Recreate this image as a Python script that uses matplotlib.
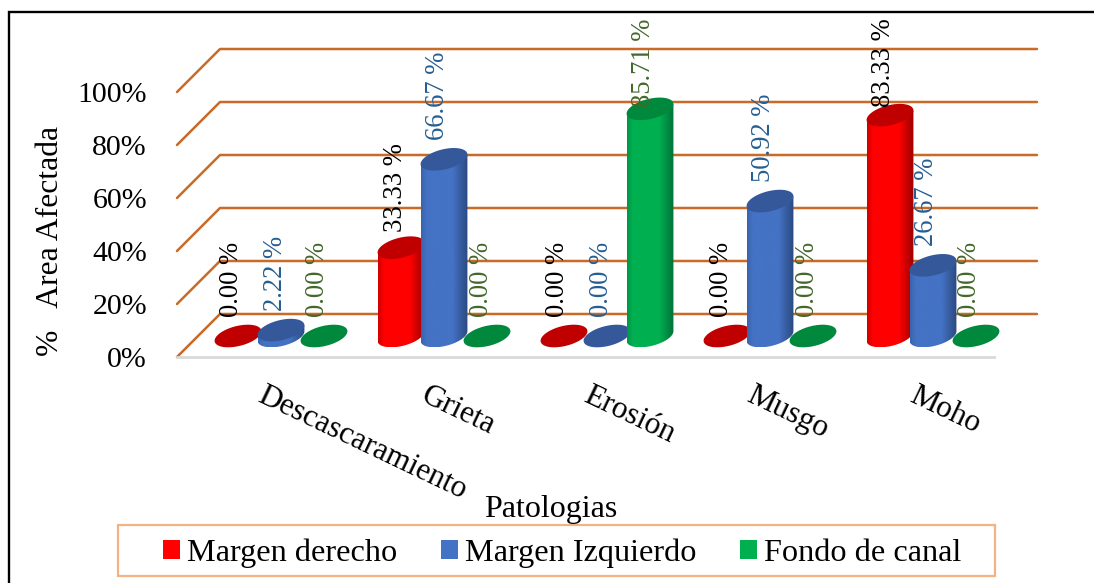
import numpy as np
import matplotlib
matplotlib.use('Agg')
import matplotlib.pyplot as plt
from matplotlib.colors import LinearSegmentedColormap
from matplotlib.patches import Patch, PathPatch, Rectangle
from matplotlib.path import Path

categories = ['Descascaramiento', 'Grieta', 'Erosión', 'Musgo', 'Moho']
series_names = ['Margen derecho', 'Margen Izquierdo', 'Fondo de canal']
derecho = [0.00, 33.33, 0.00, 0.00, 83.33]
izquierdo = [2.22, 66.67, 0.00, 50.92, 26.67]
fondo = [0.00, 0.00, 85.71, 0.00, 0.00]
y_ticks = [0, 20, 40, 60, 80, 100]

plt.rcParams['font.family'] = ['Liberation Serif', 'DejaVu Serif']

W, H = 1094, 583
# one category step and one percent, in pixels
PX_CAT = 163.0
PX_PCT = 2.65
BASE_X = 237.0
BASE_Y = 336.0

fig = plt.figure(figsize=(W / 100, H / 100), dpi=100)
ax = fig.add_axes([0, 0, 1, 1])
ax.set_xlim(-BASE_X / PX_CAT, (W - BASE_X) / PX_CAT)
ax.set_ylim((BASE_Y - H) / PX_PCT, BASE_Y / PX_PCT)
ax.axis('off')


def dx(px):
    return px / PX_CAT


def dy(px):
    return px / PX_PCT


# frame round the chart area (only left and top fall inside the image)
ax.plot([dx(8.5 - BASE_X)] * 2 + [dx(W - BASE_X)],
        [dy(BASE_Y - H), dy(BASE_Y - 11.5), dy(BASE_Y - 11.5)],
        color='black', lw=1.7, solid_joinstyle='miter', zorder=1)

# walls and floor of the 3D box
left = dx(177 - BASE_X)
depth_x = dx(43)
right = dx(994 - BASE_X)
front = -dy(21)
back = dy(22)
GRID = '#c55a11'
for t in y_ticks:
    ax.plot([left, left + depth_x, right + depth_x],
            [t + front, t + back, t + back],
            color=GRID, lw=1.8, alpha=0.9, solid_capstyle='round', zorder=2)
    ax.text(dx(147 - BASE_X), t + front, f'{t}%', ha='right', va='center_baseline',
            fontsize=21.5, color='black')
ax.plot([left, right], [front, front], color='#d9d9d9', lw=2.0, zorder=2)

# colours per series: left edge, centre, right edge, cap, label
styles = [
    ('#d00000', '#ff0000', '#9c0000', '#c00000', 'black'),
    ('#3a64ad', '#4472c4', '#2b4a80', '#34589a', '#255e91'),
    ('#00964a', '#00b050', '#00733a', '#00893d', '#43682b'),
]
series_values = [derecho, izquierdo, fondo]

RX, RY = 24.0, 10.0
TILT = np.radians(14)


def ellipse(cx, cy):
    t = np.linspace(0, 2 * np.pi, 121)
    ex = RX * np.cos(t) * np.cos(TILT) - RY * np.sin(t) * np.sin(TILT)
    ey = RX * np.cos(t) * np.sin(TILT) + RY * np.sin(t) * np.cos(TILT)
    return cx + dx(ex), cy + dy(ey)


def cylinder(cx, value, style, z):
    c_left, c_mid, c_right, c_cap, _ = style
    x_b, y_b = ellipse(cx, 0)
    x_t, y_t = ellipse(cx, value)
    if value > 0:
        # side wall: lower arc of the base, then straight up to the top ellipse
        i_r, i_l = int(np.argmax(x_b)), int(np.argmin(x_b))
        idx = np.arange(i_l, i_r + 1) if i_l < i_r else np.r_[i_l:len(x_b) - 1, 0:i_r + 1]
        xs = np.r_[x_b[idx], x_t[i_r], x_t[i_l], x_b[i_l]]
        ys = np.r_[y_b[idx], y_t[i_r], y_t[i_l], y_b[i_l]]
        clip = PathPatch(Path(np.column_stack([xs, ys])), transform=ax.transData,
                         fc='none', ec='none')
        ax.add_patch(clip)
        cmap = LinearSegmentedColormap.from_list(
            'side', [(0, c_left), (0.12, c_mid), (0.68, c_mid), (1, c_right)])
        img = ax.imshow(np.linspace(0, 1, 64).reshape(1, -1), cmap=cmap, aspect='auto',
                        extent=[x_b[i_l], x_b[i_r], ys.min(), ys.max()], zorder=z)
        img.set_clip_path(clip)
    ax.fill(x_t, y_t, color=c_cap, lw=0, zorder=z + 0.1)


for s, values in enumerate(series_values):
    for i, v in enumerate(values):
        cylinder(i + dx(1) + dx(43) * s, v, styles[s], 3 + s)

# data labels stand this many pixels above the cap
label_gap = 19
label_gap_near = {(0, 1): 16, (0, 4): 8, (2, 2): 2}
for s, values in enumerate(series_values):
    for i, v in enumerate(values):
        gap = label_gap_near.get((s, i), label_gap)
        ax.text(i + dx(43) * s - dx(5), v + dy(gap), f'{v:.2f} %', rotation=90,
                ha='center', va='bottom', fontsize=19.2, color=styles[s][4], zorder=8)

# axis titles and category labels
ax.text(dx(51 - BASE_X), dy(BASE_Y - 241), '%   Area Afectada', rotation=90,
        ha='center', va='center', fontsize=22.8)
ax.text(dx(551 - BASE_X), dy(BASE_Y - 509), 'Patologias', ha='center', va='center',
        fontsize=23)
for i, name in enumerate(categories):
    ax.text(i + dx(29), dy(BASE_Y - 381), name, rotation=-25.5, rotation_mode='anchor',
            ha='left', va='top', fontsize=22.5)

# legend box
ax.add_patch(Rectangle((dx(118.5 - BASE_X), dy(BASE_Y - 576)), dx(877), dy(51),
                       fc='white', ec='#f4b183', lw=1.6, zorder=1))
handles = [Patch(fc=st[1], ec='none') for st in styles]
ax.legend(handles, series_names, ncol=3, fontsize=23.2, loc='center',
          bbox_to_anchor=(562.5 / W, 1 - 553 / H), frameon=False, borderpad=0,
          handlelength=0.53, handleheight=0.53, handletextpad=0.22, columnspacing=1.35,
          labelspacing=0)

fig.savefig('out.png', dpi=100)
